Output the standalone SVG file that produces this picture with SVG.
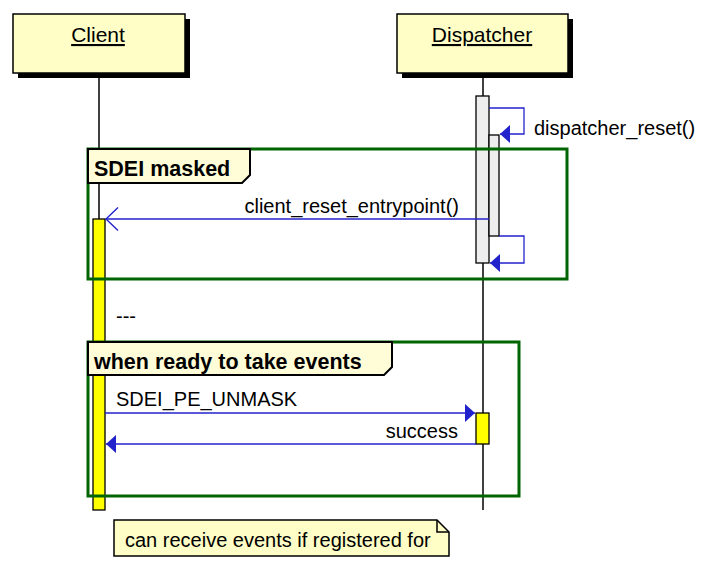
<svg xmlns="http://www.w3.org/2000/svg" width="714" height="571" viewBox="0 0 714 571">
<defs>
<style>
text{font-family:"Liberation Sans",Arial,sans-serif;fill:#000}
.part{fill:#fefec6;stroke:#000;stroke-width:1.5}
.shadow{fill:#000}
.life{stroke:#000;stroke-width:1.5;fill:none}
.act{fill:#eeeeee;stroke:#000;stroke-width:1.3}
.acty{fill:#ffff00;stroke:#000;stroke-width:1.3}
.msg{stroke:#2222cc;stroke-width:1.3;fill:none}
.frame{fill:none;stroke:#006400;stroke-width:3}
.tab{fill:#fffdd8;stroke:#000;stroke-width:2}
.lbl{font-size:20px}
.flbl{font-size:21.5px;font-weight:bold}
.title{font-size:21px;text-decoration:underline}
</style>
<marker id="filled" markerWidth="12" markerHeight="20" refX="11" refY="10" orient="auto" markerUnits="userSpaceOnUse">
<path d="M1,1 L11,10 L1,19 Z" fill="#2222cc"/>
</marker>
<marker id="open" markerWidth="14" markerHeight="26" refX="13" refY="13" orient="auto" markerUnits="userSpaceOnUse">
<path d="M1,1.5 L13,13 L1,24.5" fill="none" stroke="#2222cc" stroke-width="1.4"/>
</marker>
</defs>
<rect width="714" height="571" fill="#ffffff"/>

<g id="lifelines">
<line class="life" x1="99" y1="72" x2="99" y2="510"/>
<line class="life" x1="483" y1="72" x2="483" y2="510"/>
</g>

<g id="client">
<rect class="shadow" x="18" y="19" width="172" height="59"/>
<rect class="part" x="13" y="14" width="172" height="59"/>
<text class="title" x="98" y="42" text-anchor="middle">Client</text>
</g>

<g id="dispatcher">
<rect class="shadow" x="402" y="19" width="171" height="59"/>
<rect class="part" x="397" y="14" width="171" height="59"/>
<text class="title" x="482" y="42" text-anchor="middle">Dispatcher </text>
</g>

<g id="activations">
<rect class="act" x="476" y="96" width="13" height="167"/>
<rect class="act" x="489" y="135" width="10" height="101"/>
<rect class="acty" x="93" y="219" width="12" height="291"/>
<rect class="acty" x="476" y="413" width="13" height="31"/>
</g>

<g id="frame-sdei-masked">
<rect class="frame" x="88" y="149" width="479" height="130"/>
<path class="tab" d="M88,149 H250 V175 L242,183 H88 Z"/>
<text class="flbl" x="94" y="176">SDEI masked</text>
</g>

<g id="frame-ready">
<rect class="frame" x="88" y="342" width="431" height="154"/>
<path class="tab" d="M88,342 H392 V367 L384,375 H88 Z"/>
<text class="flbl" x="94" y="369">when ready to take events</text>
</g>

<g id="connectors">
<path class="msg" d="M489,108 H524 V134 H500" marker-end="url(#filled)"/>
<text class="lbl" x="534" y="135">dispatcher_reset()</text>
<line class="msg" x1="489" y1="219" x2="106" y2="219" marker-end="url(#open)"/>
<text class="lbl" x="459" y="213" text-anchor="end">client_reset_entrypoint()</text>
<path class="msg" d="M499,236 H524 V263 H490" marker-end="url(#filled)"/>
<line class="msg" x1="105" y1="413" x2="475" y2="413" marker-end="url(#filled)"/>
<text class="lbl" x="116" y="406">SDEI_PE_UNMASK</text>
<line class="msg" x1="476" y1="444" x2="106" y2="444" marker-end="url(#filled)"/>
<text class="lbl" x="458" y="438" text-anchor="end">success</text>
</g>

<text class="lbl" x="116" y="323">---</text>

<g id="note">
<path d="M114,520 H437 L449,532 V556 H114 Z" fill="#fefec6" stroke="#000" stroke-width="1.5"/>
<path d="M437,520 V532 H449" fill="none" stroke="#000" stroke-width="1.5"/>
<text class="lbl" x="125" y="547">can receive events if registered for</text>
</g>
</svg>
